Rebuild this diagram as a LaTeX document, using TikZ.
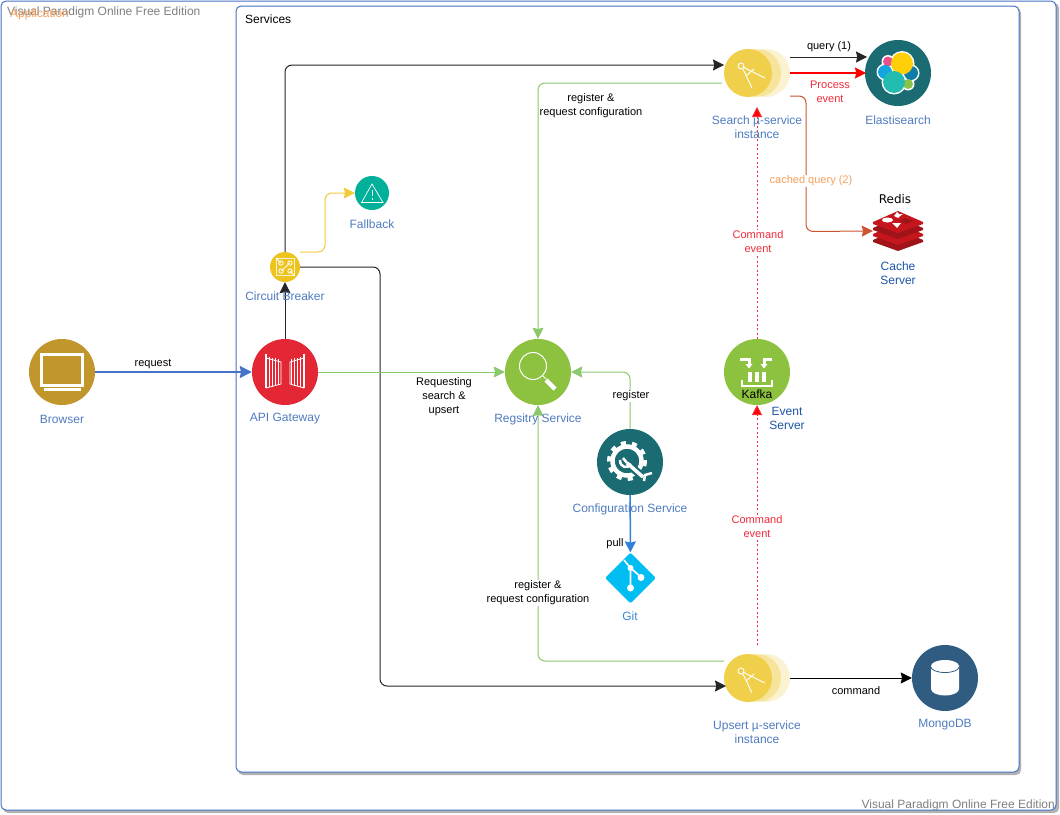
\documentclass[tikz,border=0pt]{standalone}
\usepackage{fontspec}
\setmainfont{Liberation Sans}
\newfontfamily\redisfont{DejaVu Sans}
\usetikzlibrary{arrows.meta,positioning,shapes.geometric}
\definecolor{frameblue}{HTML}{4472C4}
\definecolor{labelblue}{HTML}{4F7CC0}
\definecolor{darkblue}{HTML}{1D54A8}
\definecolor{gitblue}{HTML}{3B8AD0}
\definecolor{pullblue}{HTML}{2F80D8}
\definecolor{linegreen}{HTML}{8CC86E}
\definecolor{browsergold}{HTML}{C1972C}
\definecolor{gatered}{HTML}{E32735}
\definecolor{breakeryellow}{HTML}{EEC31D}
\definecolor{fallbackteal}{HTML}{00B09B}
\definecolor{leafgreen}{HTML}{8CC23F}
\definecolor{deepteal}{HTML}{1A6B72}
\definecolor{gitcyan}{HTML}{00BEF2}
\definecolor{mongoblue}{HTML}{315C82}
\definecolor{instyellow}{HTML}{F0CF4A}
\definecolor{linegold}{HTML}{F2CB3C}
\definecolor{cacheline}{HTML}{CC5530}
\definecolor{cacheorange}{HTML}{F6A05B}
\definecolor{eventred}{HTML}{F22B3A}
\definecolor{redisdark}{HTML}{A01419}
\definecolor{redislight}{HTML}{C4161C}
\definecolor{editiongray}{HTML}{808080}
\definecolor{elasticpink}{HTML}{E8508F}
\definecolor{elasticyellow}{HTML}{FFD00A}
\definecolor{elasticblue}{HTML}{12A5DF}
\definecolor{elasticdark}{HTML}{0E7CA6}
\definecolor{elasticteal}{HTML}{22BCB0}
\definecolor{elasticgreen}{HTML}{8BC34A}
\tikzset{
  svc/.style={circle,inner sep=0pt,minimum size=66pt,fill=#1},
  svclabel/.style={text=labelblue,font=\fontsize{12}{14}\selectfont,align=center,inner sep=0pt},
  edgelabel/.style={font=\fontsize{11}{14}\selectfont,align=center,inner sep=1pt},
  conn/.style={line width=1pt,rounded corners=7pt,-{Stealth[inset=1.2pt,length=11pt,width=11pt]}},
  eventconn/.style={line width=1pt,eventred,dash pattern=on 2pt off 2.5pt,-{Triangle[length=10pt,width=10pt,fill=red,sep=0pt]}},
  icon/.style={draw=white,line width=1pt},
  frame/.style={draw=frameblue,fill=white,line width=1pt,rounded corners=5pt},
  ghost/.style={circle,inner sep=0pt,minimum size=48pt,fill=instyellow,opacity=.25}
}
\begin{document}
\begin{tikzpicture}[x=1pt,y=-1pt]
\useasboundingbox (0,0) rectangle (1060,814);

% frames
\fill[black!30,rounded corners=5pt] (3,3) rectangle (1059,813);
\draw[frame] (1,1) rectangle (1056,810);
\fill[black!30,rounded corners=5pt] (238,8) rectangle (1021,775);
\draw[frame] (236,6) rectangle (1019,772);
\node[anchor=west,inner sep=0pt,text=editiongray,font=\fontsize{12}{14}\selectfont] (editiontop) at (7,12) {Visual Paradigm Online Free Edition};
\node[anchor=west,inner sep=0pt,text=cacheorange,font=\fontsize{12}{14}\selectfont] (application) at (10,14) {Application};
\node[anchor=east,inner sep=0pt,text=editiongray,font=\fontsize{12}{14}\selectfont] (editionbottom) at (1055,805) {Visual Paradigm Online Free Edition};
\node[anchor=west,inner sep=0pt,font=\fontsize{12}{14}\selectfont] (services) at (245,19) {Services};

% services
\node[svc=browsergold] (browser) at (62,372) {};
\node[svc=gatered] (gateway) at (285,372) {};
\node[svc=breakeryellow,minimum size=30pt] (breaker) at (285,267) {};
\node[svc=fallbackteal,minimum size=34pt] (fallback) at (372,193) {};
\node[svc=leafgreen] (registry) at (538,372) {};
\node[svc=deepteal] (config) at (630,462) {};
\node[diamond,fill=gitcyan,inner sep=0pt,minimum size=51pt,rounded corners=2pt] (git) at (630.5,578) {};
\node[svc=leafgreen] (kafka) at (757,372) {};
\node[ghost] (searchb) at (766,73) {};
\node[ghost,opacity=.4] (searcha) at (757,73) {};
\node[svc=instyellow,minimum size=48pt] (search) at (748,73) {};
\node[svc=deepteal] (elastic) at (898,73) {};
\node[inner sep=0pt,minimum width=50pt,minimum height=40pt] (redis) at (898,231) {};
\node[ghost] (upsertb) at (766,678) {};
\node[ghost,opacity=.4] (upserta) at (757,678) {};
\node[svc=instyellow,minimum size=48pt] (upsert) at (748,678) {};
\node[svc=mongoblue] (mongo) at (945,678) {};

% free ends of the connectors
\coordinate (searchin) at (724,65);
\coordinate (searchgreen) at (722,83);
\coordinate (searchq) at (790,57);
\coordinate (searchp) at (790,73);
\coordinate (searchc) at (790,96);
\coordinate (searchbottom) at (757,107);
\coordinate (elasticq) at (867,57);
\coordinate (elasticp) at (866,73);
\coordinate (breakerout) at (300,252);
\coordinate (upsertin) at (726,686);
\coordinate (upsertgreen) at (724,661);
\coordinate (upserttop) at (757,645);
\coordinate (upsertout) at (790,678);
\coordinate (kafkatop) at (757,339);
\coordinate (kafkabottom) at (757,405);

% connectors
\draw[conn,draw=frameblue,line width=2pt,-{Stealth[inset=1.2pt,length=12pt,width=12pt]}] (browser) -- (gateway);
\draw[conn,black!85] (gateway) -- (breaker);
\draw[conn,black!85] (breaker.north) -- (285,65) -- (searchin);
\draw[conn,black!85] (breaker.east) -- (380,267) -- (380,686) -- (upsertin);
\draw[conn,linegold] (breakerout) -- (325,252) -- (325,193) -- (fallback);
\draw[conn,linegreen] (gateway) -- (registry);
\draw[conn,linegreen] (searchgreen) -- (538,83) -- (registry);
\draw[conn,linegreen] (upsertgreen) -- (538,661) -- (registry);
\draw[conn,linegreen] (config.north) -- (630,372) -- (registry);
\draw[conn,pullblue,line width=1.5pt] (config) -- (git);
\draw[conn,black!85] (searchq) -- (elasticq);
\draw[conn,red,line width=1.5pt] (searchp) -- (elasticp);
\draw[conn,cacheline] (searchc) -- (806,96) -- (806,231.5) -- (redis.west);
\draw[eventconn] (kafkatop) -- (searchbottom);
\draw[eventconn] (upserttop) -- (kafkabottom);
\draw[conn,black] (upsertout) -- (mongo);

% labels of the services
\node[svclabel] (browserlabel) at (62,419) {Browser};
\node[svclabel] (gatewaylabel) at (285,419) {API Gateway};
\node[svclabel] (breakerlabel) at (285,296) {Circuit Breaker};
\node[svclabel] (fallbacklabel) at (372,224) {Fallback};
\node[svclabel] (registrylabel) at (538,419) {Regsitry Service};
\node[svclabel] (configlabel) at (630,509) {Configuration Service};
\node[svclabel,text=gitblue] (gitlabel) at (630,616) {Git};
\node[svclabel] (searchlabel) at (757,127) {Search µ-service\\instance};
\node[svclabel] (elasticlabel) at (898,120) {Elastisearch};
\node[svclabel,text=darkblue] (redislabel) at (898,273) {Cache\\Server};
\node[svclabel,text=darkblue] (kafkalabel) at (787,418) {Event\\Server};
\node[svclabel] (upsertlabel) at (757,732) {Upsert µ-service\\instance};
\node[svclabel] (mongolabel) at (945,725) {MongoDB};
\node[inner sep=0pt,font=\redisfont\fontsize{12}{14}\selectfont] (redisname) at (895,199) {Redis};
\node[inner sep=0pt,font=\fontsize{12}{14}\selectfont] (kafkaname) at (757,394) {Kafka};

% labels of the connectors
\node[edgelabel] (requestlabel) at (153,364) {request};
\node[edgelabel] (upsertreq) at (444,397) {Requesting\\search \&\\upsert};
\node[edgelabel,fill=white] (regsearch) at (591,106) {register \&\\request configuration};
\node[edgelabel,fill=white] (regupsert) at (538,593) {register \&\\request configuration};
\node[edgelabel,fill=white] (reglabel) at (631,396) {register};
\node[edgelabel] (pulllabel) at (615,544) {pull};
\node[edgelabel] (querylabel) at (829,47) {query (1)};
\node[edgelabel,text=eventred] (processlabel) at (830,92) {Process\\event};
\node[edgelabel,text=cacheorange,fill=white] (cachedlabel) at (811,181) {cached query (2)};
\node[edgelabel,text=eventred,fill=white] (cmdtop) at (758,242) {Command\\event};
\node[edgelabel,text=eventred,fill=white] (cmdbottom) at (757,527) {Command\\event};
\node[edgelabel] (commandlabel) at (856,691) {command};

% browser icon
\draw[icon,line width=3pt] (41.5,354.5) rectangle (82.5,385);
\draw[icon,line width=1pt,fill=white] (44,388) rectangle (80,390.5);

% gate icon
\draw[icon,line width=1.6pt] (266,354) -- (266,388) (304,354) -- (304,388);
\draw[icon,line width=.8pt] (266,358) -- (281,362) -- (281,384) -- (266,388) (304,358) -- (290,362) -- (290,384) -- (304,388);
\foreach \gx/\gt/\gb in {269/357/387,272/358/387,275/358/386,278/359/385,291/359/385,294/358/386,297/358/386,300/357/387}{
  \draw[icon,line width=.7pt] (\gx,\gt) -- (\gx,\gb);
}

% breaker icon
\draw[icon,draw=white!80!breakeryellow,line width=.6pt] (276,258) -- (294,258) -- (294,275) -- (276,275) -- cycle;
\draw[icon,line width=.8pt] (281,263) circle (2.2) (290,263) circle (2.2) (281,271) circle (2.2) (290,271) circle (2.2);
\draw[icon,line width=.8pt] (281,271) -- (290,263) (276,258) -- (281,263) (290,271) -- (294,275);

% fallback icon
\draw[icon,line width=.7pt] (372,184) -- (383,202.5) -- (361.5,202.5) -- cycle;
\draw[icon,line width=.9pt] (372,190) -- (372,196) (372,198) -- (372,199.5);

% registry icon
\draw[icon] (533,366) circle (13.5);
\draw[icon,line width=1pt] (543,376) -- (546,379);
\draw[icon,line width=4.5pt] (546,380) -- (555,389);

% config icon
\draw[draw=white,line width=5pt,dash pattern=on 5pt off 5.9pt] (627,461) circle (17.5);
\draw[draw=white,line width=4.5pt] (627,461) circle (14.5);
\draw[draw=deepteal,line width=8pt] (628,464) -- (644,478);
\draw[draw=white,line width=3.5pt] (627,463) -- (643,477);
\draw[draw=white,line width=2.5pt] (620,460) .. controls (620,468) and (628,469) .. (631,464) (644,481) -- (645,475) -- (652,473);
\draw[draw=white,line width=2.5pt] (623,458) -- (627,463);

% git icon
\draw[draw=white,line width=1.6pt] (624,560) -- (630.5,568) -- (630.5,587);
\draw[draw=white,line width=1.6pt] (630.5,568) -- (641,577);
\fill[white] (630.5,588) circle (3.5) (641,577.5) circle (3.5) (630.5,568) circle (3);

% kafka icon
\foreach \kx in {750,757,764}{\draw[draw=white,line width=3.2pt] (\kx,372) -- (\kx,382);}
\draw[draw=white,line width=2.5pt] (742,380) -- (742,386) -- (772,386) -- (772,380);
\draw[draw=white,line width=3pt] (740,359) -- (749,359) -- (749,364);
\draw[draw=white,line width=3pt] (772,359) -- (764,359) -- (764,364);
\fill[white] (745.5,364) -- (752.5,364) -- (749,368.5) -- cycle (760.5,364) -- (767.5,364) -- (764,368.5) -- cycle;

% search and upsert icon
\foreach \sy in {73,678}{
  \draw[icon,line width=.9pt] (741,\sy-7) circle (3);
  \draw[icon,line width=.9pt] (743,\sy-4) -- (752,\sy+15) (743,\sy-6) -- (765,\sy+5) (746,\sy+3) -- (754,\sy-4);
}

% elastic icon
\fill[white] (888,61.5) circle (6.5) (902,63.5) circle (12.5) (885,72) circle (8.5) (911,73) circle (8.5) (894,82) circle (12.5) (908,84) circle (6.5);
\fill[elasticpink] (888,61.5) circle (5);
\fill[elasticblue] (885,72) circle (7);
\fill[elasticdark] (911,73) circle (7);
\fill[elasticgreen] (908,84) circle (5);
\fill[elasticyellow] (902,63.5) circle (11);
\fill[elasticteal] (894,82) circle (11);

% redis icon
\foreach \ry/\rc in {240/redisdark,234/redislight,228/redisdark,222/redislight}{
  \fill[\rc] (873,\ry) -- (898,\ry-11) -- (923,\ry) -- (923,\ry+2) -- (898,\ry+11) -- (873,\ry+2) -- cycle;
}
\fill[white] (887.5,220) ellipse (5.5 and 2.5);
\fill[white] (892,223) -- (901,223) -- (897,228) -- cycle;
\fill[white] (897,212) -- (899,214) -- (903,214) -- (900,216) -- (898,218) -- (894,216) -- cycle;
\fill[redisdark] (905,218) -- (913,221) -- (906,224) -- (899,221) -- cycle;

% mongo icon
\fill[white] (931,666) -- (931,689) arc[start angle=180,end angle=0,x radius=14,y radius=6.5] -- (959,666) arc[start angle=0,end angle=-180,x radius=14,y radius=6] -- cycle;
\draw[draw=mongoblue,line width=.8pt] (931,667) arc[start angle=180,end angle=0,x radius=14,y radius=5.5];
\end{tikzpicture}
\end{document}
